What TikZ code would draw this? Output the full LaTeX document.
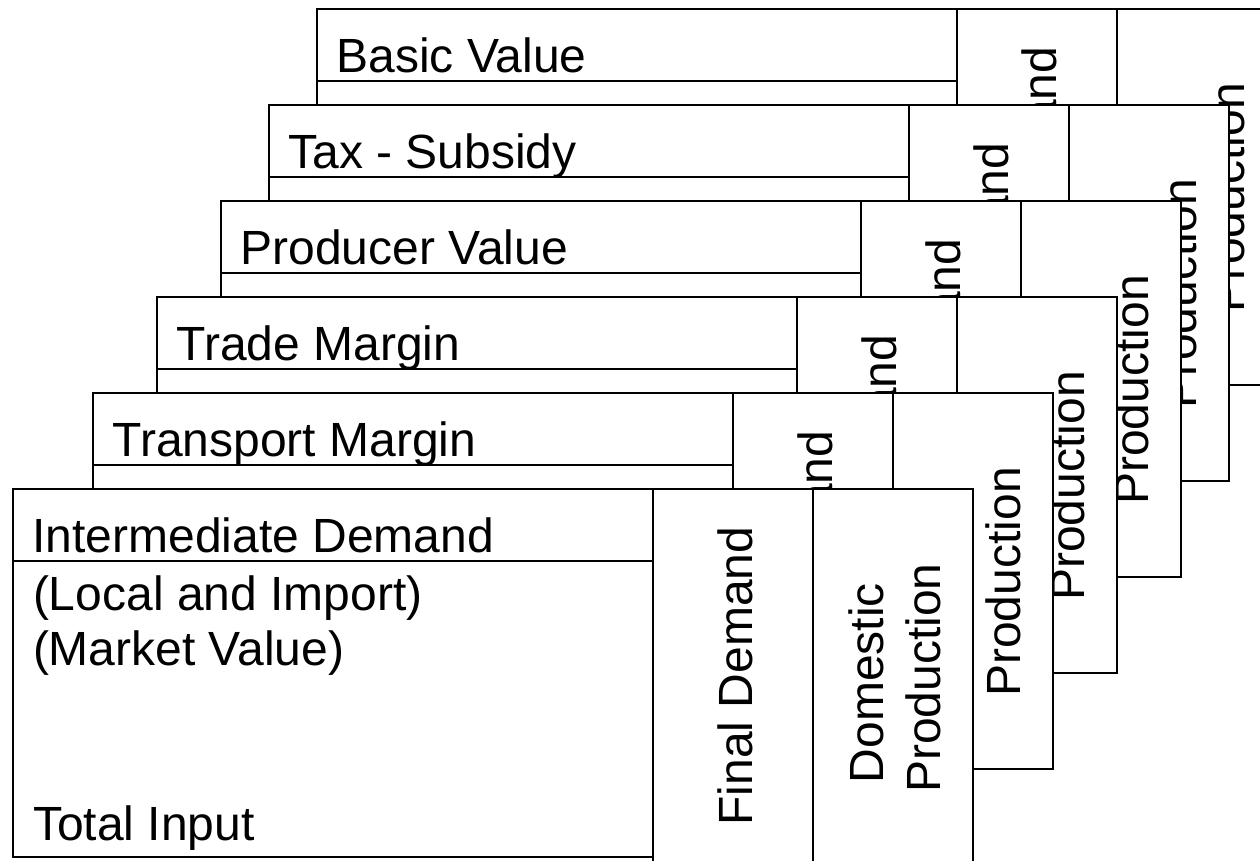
\documentclass[tikz,border=0pt]{standalone}
\usepackage{fontspec}
\setmainfont{Liberation Sans}
\begin{document}
\begin{tikzpicture}[x=1pt,y=-1pt,line width=2pt,
  card/.style={draw=black,fill=white,line width=2pt},
  lbl/.style={inner sep=0pt,outer sep=0pt,font=\fontsize{48}{58}\selectfont,anchor=base west},
  vlbl/.style={inner sep=0pt,outer sep=0pt,font=\fontsize{48}{58}\selectfont,anchor=base,rotate=90}]
\useasboundingbox (0,0) rectangle (1260,860);
\clip (0,0) rectangle (1260,860);
\foreach \ox/\oy/\ttl/\nm in {304/-480/Basic Value/bv,256/-384/Tax - Subsidy/ts,208/-288/Producer Value/pv,144/-192/Trade Margin/tm,80/-96/Transport Margin/trm,0/0/Intermediate Demand/id}{
  \begin{scope}[shift={(13+\ox,489+\oy)}]
    \draw[card] (0,0) rectangle (640,368);
    \draw (0,72) -- (640,72);
    \draw[card] (640,0) rectangle (800,376);
    \draw[card] (800,0) rectangle (960,376);
    \node[lbl] (title-\nm) at (19.5,63) {\ttl};
    \node[vlbl] (fd-\nm) at (739,187) {Final Demand};
    \node[vlbl] (dom-\nm) at (870,194) {Domestic};
    \node[vlbl] (prod-\nm) at (927,189) {Production};
  \end{scope}
}
\node[lbl] (local) at (33,610) {(Local and Import)};
\node[lbl] (market) at (33,665) {(Market Value)};
\node[lbl] (total) at (33,840) {Total Input};
\end{tikzpicture}
\end{document}
